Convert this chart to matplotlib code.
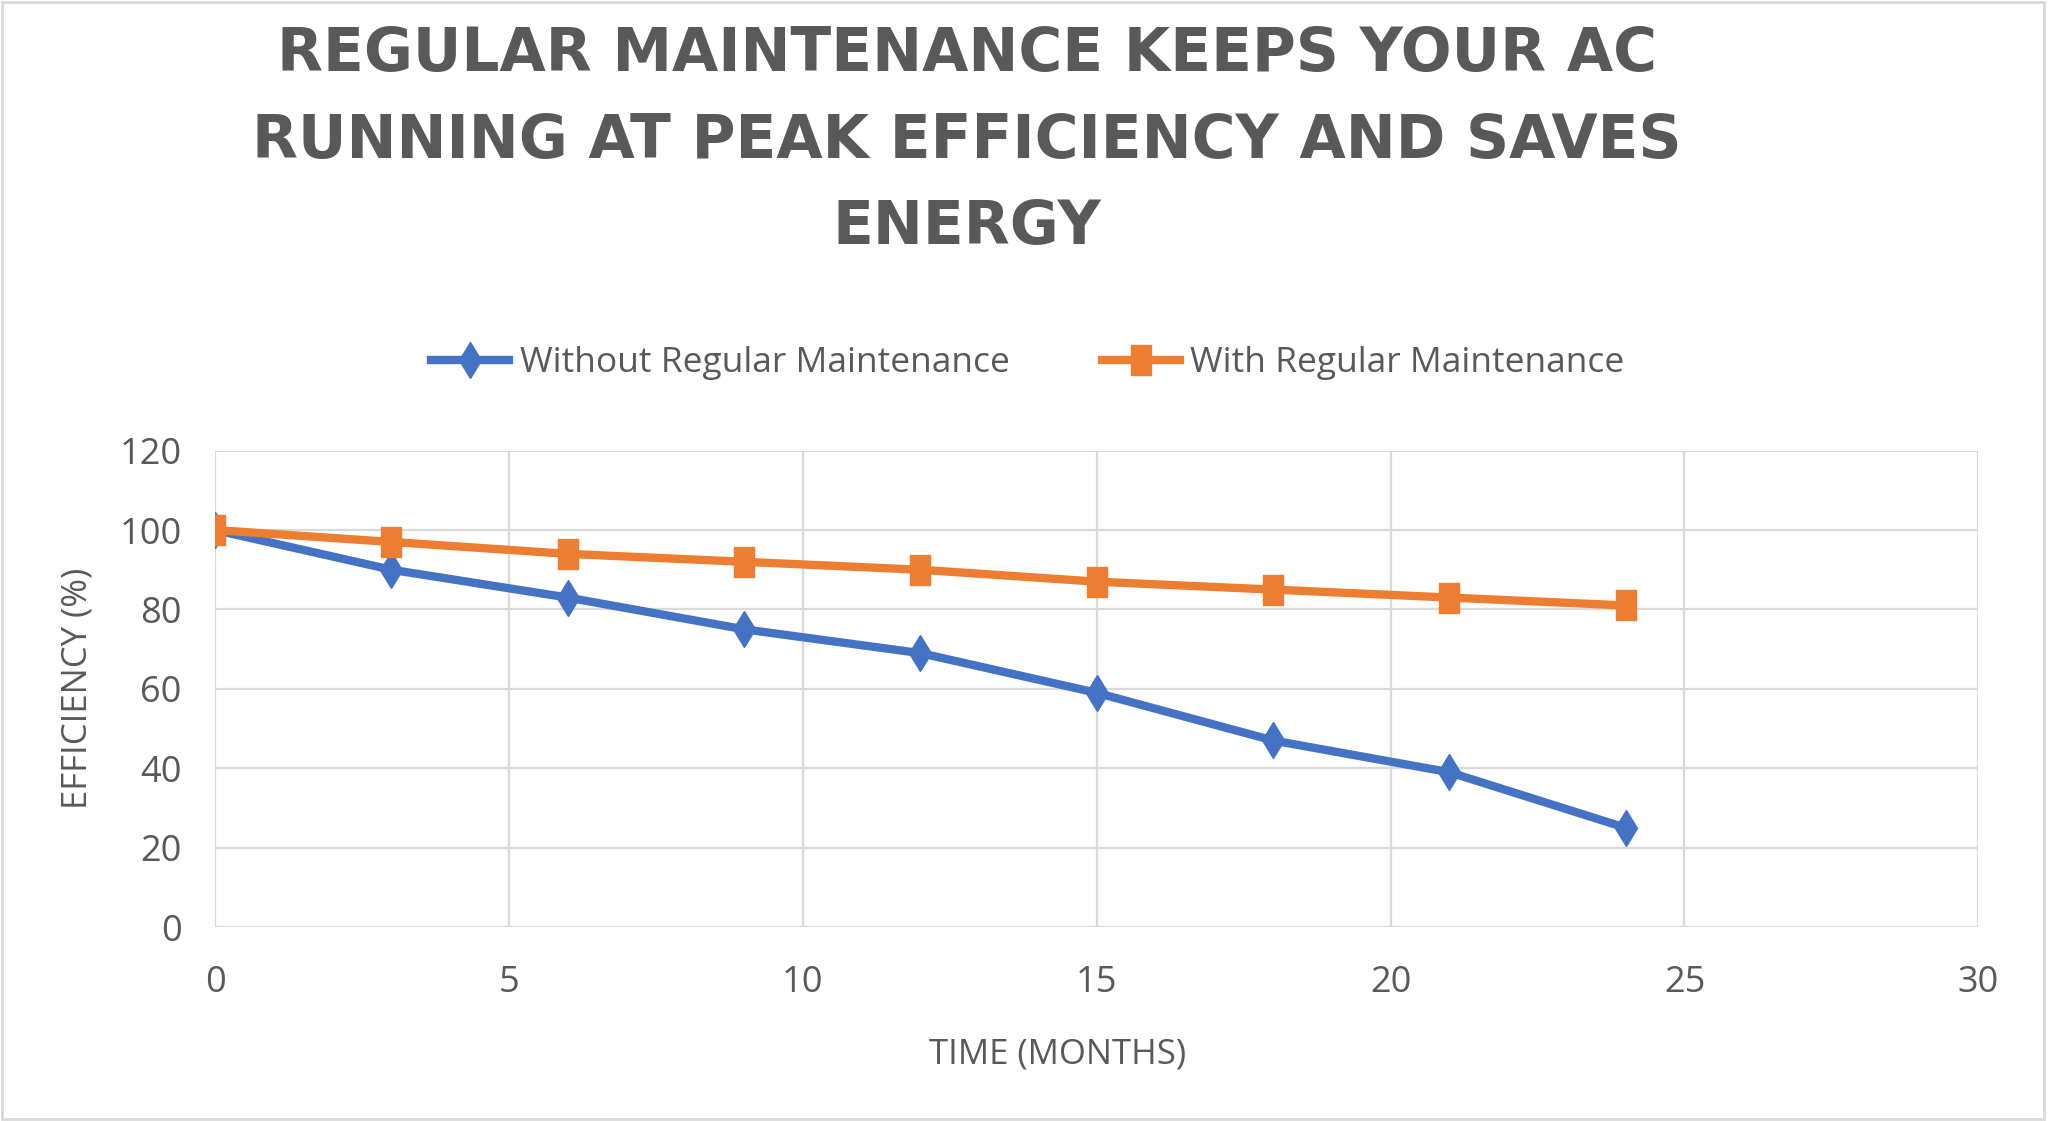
import numpy as np
import matplotlib.pyplot as plt
from matplotlib.path import Path
from matplotlib.patches import Rectangle

# data
months = [0, 3, 6, 9, 12, 15, 18, 21, 24]
without_maint = [100, 90, 83, 75, 69, 59, 47, 39, 25]
with_maint = [100, 97, 94, 92, 90, 87, 85, 83, 81]
x_ticks = [0, 5, 10, 15, 20, 25, 30]
y_ticks = [0, 20, 40, 60, 80, 100, 120]

title_lines = ['REGULAR MAINTENANCE KEEPS YOUR AC',
               'RUNNING AT PEAK EFFICIENCY AND SAVES',
               'ENERGY']

grey = '#595959'
blue = '#4472C4'
orange = '#ED7D31'
plt.rcParams['font.family'] = ['Open Sans', 'DejaVu Sans']

# the source picture is a bit squeezed sideways, so markers are taller than wide
tall_square = Path([(-0.33, -0.5), (0.33, -0.5), (0.33, 0.5), (-0.33, 0.5), (-0.33, -0.5)],
                   [Path.MOVETO, Path.LINETO, Path.LINETO, Path.LINETO, Path.CLOSEPOLY])

fig = plt.figure(figsize=(20.48, 11.21), dpi=100)
ax = fig.add_axes([0.105, 0.173, 0.861, 0.425])

ax.plot(months, without_maint, color=blue, linewidth=6, marker='d',
        markersize=18, label='Without Regular Maintenance', zorder=3)
ax.plot(months, with_maint, color=orange, linewidth=6, marker=tall_square,
        markersize=21.5, label='With Regular Maintenance', zorder=4)

ax.set_xlim(0, 30)
ax.set_ylim(0, 120)
ax.set_xticks(x_ticks)
ax.set_yticks(y_ticks)
ax.grid(True, color='#D9D9D9', linewidth=1.6)
ax.set_axisbelow(True)
for s in ax.spines.values():
    s.set_visible(False)
ax.tick_params(length=0, labelsize=26, colors=grey, pad=27)
ax.tick_params(axis='y', pad=24)

ax.set_xlabel('TIME (MONTHS)', fontsize=25, color=grey)
ax.xaxis.set_label_coords(0.478, -0.232)
ax.set_ylabel('EFFICIENCY (%)', fontsize=25, color=grey, labelpad=18)

leg = ax.legend(loc='center', bbox_to_anchor=(0.461, 1.183), ncol=2, frameon=False,
                fontsize=25.5, handlelength=2.2, columnspacing=2.6, handletextpad=0.3)
for t in leg.get_texts():
    t.set_color(grey)

for i, line in enumerate(title_lines):
    fig.text(0.472, 0.951 - i * 0.077, line, ha='center', va='center',
             fontsize=43, fontweight='bold', color=grey, family='DejaVu Sans')

# light frame round the chart area
fig.patches.append(Rectangle((0.001, 0.002), 0.997, 0.996, transform=fig.transFigure,
                             fill=False, edgecolor='#D9D9D9', linewidth=2))

fig.savefig('out.png', dpi=100)
